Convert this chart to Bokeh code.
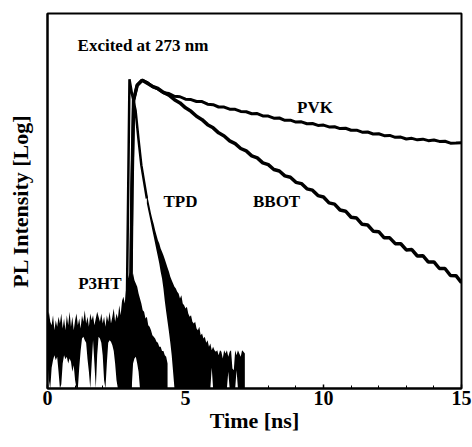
from bokeh.plotting import figure
from bokeh.models import Range1d, FixedTicker, Label
from bokeh.embed import file_html
from bokeh.resources import INLINE

# ---- data (time in ns, intensity in decades of log10 counts) ----
x_ticks = [0, 5, 10, 15]
x_minor = list(range(16))

# PVK and BBOT: rise, then decays sampled every 0.2 ns
pvk_head_t = [2.98, 3.06, 3.12, 3.25, 3.43]
pvk_head_d = [0.0, 2.40, 3.46, 3.64, 3.70]
pvk_start, pvk_step = 3.6, 0.2
pvk_d = [3.675, 3.623, 3.595, 3.548, 3.539, 3.507, 3.501, 3.472, 3.467, 3.444,
         3.443, 3.412, 3.406, 3.378, 3.377, 3.352, 3.350, 3.325, 3.321, 3.297,
         3.299, 3.271, 3.269, 3.244, 3.246, 3.218, 3.220, 3.197, 3.200, 3.177,
         3.180, 3.157, 3.161, 3.139, 3.141, 3.119, 3.123, 3.099, 3.100, 3.076,
         3.078, 3.054, 3.057, 3.034, 3.037, 3.014, 3.017, 2.994, 3.002, 2.984,
         2.992, 2.974, 2.982, 2.965, 2.967, 2.944, 2.945, 2.950]

bbot_head_t = [2.98, 3.06, 3.12, 3.25, 3.43]
bbot_head_d = [0.0, 2.40, 3.46, 3.64, 3.70]
bbot_start, bbot_step = 3.6, 0.2
bbot_d = [3.667, 3.626, 3.600, 3.553, 3.520, 3.466, 3.427, 3.368, 3.326, 3.267,
          3.226, 3.166, 3.128, 3.068, 3.030, 2.971, 2.939, 2.880, 2.851, 2.792,
          2.767, 2.708, 2.686, 2.628, 2.610, 2.552, 2.535, 2.474, 2.459, 2.396,
          2.380, 2.315, 2.298, 2.228, 2.213, 2.142, 2.128, 2.055, 2.045, 1.970,
          1.962, 1.888, 1.882, 1.808, 1.808, 1.738, 1.737, 1.663, 1.667, 1.590,
          1.594, 1.517, 1.519, 1.440, 1.440, 1.356, 1.354, 1.270]

# TPD: sharp rise and decay, then a noisy tail given as min/max per 0.05 ns bin
tpd_head_t = [2.84, 2.97, 3.07, 3.19, 3.30, 3.40, 3.50, 3.60]
tpd_head_d = [0.0, 3.71, 3.52, 3.34, 2.98, 2.68, 2.48, 2.28]
tpd_start, tpd_step = 3.60, 0.05
tpd_lo = [2.22, 2.14, 2.06, 1.98, 1.90, 1.82, 1.74, 1.66, 1.58, 1.50,
          1.40, 1.32, 1.20, 1.05, 0.92, 0.80, 0.68, 0.55, 0.40, 0.20,
          0.00, 0.00, 0.00, 0.00, 0.00, 0.00, 0.00, 0.00, 0.00, 0.00,
          0.00, 0.00, 0.00, 0.00, 0.00, 0.00, 0.00, 0.00, 0.00, 0.00,
          0.00, 0.00, 0.00, 0.00, 0.00, 0.00, 0.00, 0.25, 0.00, 0.00,
          0.00, 0.00, 0.00, 0.00, 0.00, 0.00, 0.00, 0.00, 0.00, 0.20,
          0.00, 0.00, 0.00, 0.00, 0.00, 0.22, 0.00, 0.00, 0.00, 0.00,
          0.00, 0.00]
tpd_hi = [2.33, 2.26, 2.18, 2.10, 2.03, 1.97, 1.90, 1.84, 1.78, 1.74,
          1.68, 1.64, 1.60, 1.55, 1.50, 1.45, 1.40, 1.34, 1.30, 1.26,
          1.22, 1.20, 1.16, 1.14, 1.08, 1.12, 1.02, 1.00, 0.96, 0.98,
          0.90, 0.86, 0.88, 0.80, 0.78, 0.80, 0.72, 0.70, 0.74, 0.64,
          0.66, 0.60, 0.62, 0.55, 0.58, 0.50, 0.54, 0.46, 0.50, 0.46,
          0.44, 0.46, 0.40, 0.46, 0.44, 0.36, 0.46, 0.42, 0.46, 0.38,
          0.44, 0.46, 0.24, 0.22, 0.46, 0.40, 0.46, 0.42, 0.38, 0.46,
          0.44, 0.42]

# P3HT: noisy trace given as min/max per 0.05 ns bin
p3ht_start, p3ht_step = 0.0, 0.05
p3ht_lo = [0.30, 0.10, 0.00, 0.25, 0.34, 0.40, 0.34, 0.38, 0.20, 0.00,
           0.05, 0.30, 0.40, 0.35, 0.38, 0.30, 0.36, 0.32, 0.20, 0.28,
           0.10, 0.00, 0.00, 0.25, 0.45, 0.60, 0.62, 0.58, 0.55, 0.35,
           0.20, 0.00, 0.30, 0.58, 0.30, 0.00, 0.40, 0.62, 0.60, 0.55,
           0.40, 0.10, 0.00, 0.30, 0.55, 0.58, 0.56, 0.52, 0.45, 0.30,
           0.10, 0.00, 0.00, 0.00, 0.00, 0.00, 0.00, 0.00, 0.00, 0.00,
           0.00, 0.00, 0.30, 0.36, 0.38, 0.30, 0.20, 0.00, 0.00, 0.00,
           0.00, 0.00, 0.00, 0.00, 0.00, 0.00, 0.00, 0.00, 0.00, 0.00,
           0.00, 0.00, 0.00, 0.00, 0.00, 0.00, 0.00, 0.00]
p3ht_hi = [0.85, 0.92, 0.80, 0.76, 0.88, 0.70, 0.82, 0.74, 0.86, 0.78,
           0.90, 0.72, 0.84, 0.70, 0.88, 0.76, 0.92, 0.74, 0.86, 0.70,
           0.82, 0.90, 0.76, 0.84, 0.72, 0.88, 0.80, 0.94, 0.78, 0.86,
           0.74, 0.90, 0.82, 0.88, 0.76, 0.84, 0.92, 0.86, 0.80, 0.90,
           0.78, 0.86, 0.74, 0.88, 0.80, 0.92, 0.78, 0.86, 0.96, 0.80,
           0.90, 0.84, 1.00, 0.88, 1.05, 1.10, 1.02, 1.20, 1.30, 1.36,
           1.40, 1.34, 1.38, 1.30, 1.26, 1.22, 1.14, 1.08, 1.02, 0.94,
           0.92, 0.84, 0.86, 0.76, 0.74, 0.70, 0.64, 0.62, 0.60, 0.56,
           0.55, 0.50, 0.50, 0.45, 0.45, 0.40, 0.38, 0.30]


def grid(start, step, vals):
    return [round(start + i * step, 4) for i in range(len(vals))]


SERIF = "Liberation Serif"

p = figure(width=472, height=447, output_backend="svg", toolbar_location=None,
           x_range=Range1d(0, 15), y_range=Range1d(0, 4.5),
           min_border_left=47, min_border_right=11, min_border_top=13,
           min_border_bottom=59, background_fill_color="white",
           border_fill_color="white")
p.grid.visible = False
p.outline_line_color = "black"
p.outline_line_width = 2

# noisy traces drawn as a band between per-bin minimum and maximum
p.varea(x=grid(p3ht_start, p3ht_step, p3ht_lo), y1=p3ht_lo, y2=p3ht_hi, fill_color="black")
p.varea(x=grid(tpd_start, tpd_step, tpd_lo), y1=tpd_lo, y2=tpd_hi, fill_color="black")
# smooth parts
p.line(tpd_head_t, tpd_head_d, line_color="black", line_width=2.5)
p.line(pvk_head_t + grid(pvk_start, pvk_step, pvk_d), pvk_head_d + pvk_d,
       line_color="black", line_width=3)
p.line(bbot_head_t + grid(bbot_start, bbot_step, bbot_d), bbot_head_d + bbot_d,
       line_color="black", line_width=3.5)

# axes
xa = p.xaxis[0]
xa.ticker = FixedTicker(ticks=x_ticks, minor_ticks=x_minor)
xa.axis_line_width = 2
xa.major_tick_in = 4
xa.major_tick_out = 0
xa.minor_tick_in = 3
xa.minor_tick_out = 0
xa.major_tick_line_width = 1.5
xa.major_label_standoff = 2
xa.major_label_text_font = SERIF
xa.major_label_text_font_style = "bold"
xa.major_label_text_font_size = "20px"
xa.major_label_text_color = "black"
xa.axis_label = "Time [ns]"
xa.axis_label_text_font = SERIF
xa.axis_label_text_font_style = "bold"
xa.axis_label_text_font_size = "22px"
xa.axis_label_text_color = "black"
xa.axis_label_standoff = 0

ya = p.yaxis[0]
ya.ticker = FixedTicker(ticks=[])
ya.axis_line_width = 2
ya.major_tick_in = 0
ya.major_tick_out = 0
ya.minor_tick_in = 0
ya.minor_tick_out = 0
ya.major_label_text_font_size = "0px"
ya.axis_label = "PL Intensity [Log]"
ya.axis_label_text_font = SERIF
ya.axis_label_text_font_style = "bold"
ya.axis_label_text_font_size = "22px"
ya.axis_label_text_color = "black"
ya.axis_label_standoff = 15


def lab(x, y, text, size, align="center"):
    p.add_layout(Label(x=x, y=y, text=text, text_font=SERIF, text_font_style="bold",
                       text_font_size=size, text_align=align, text_baseline="middle",
                       text_color="black"))


lab(1.09, 4.12, "Excited at 273 nm", "17px", "left")
lab(9.69, 3.37, "PVK", "17px")
lab(8.30, 2.245, "BBOT", "17px")
lab(4.82, 2.245, "TPD", "17px")
lab(1.90, 1.26, "P3HT", "17px")

open("out.html", "w").write(file_html(p, INLINE))
